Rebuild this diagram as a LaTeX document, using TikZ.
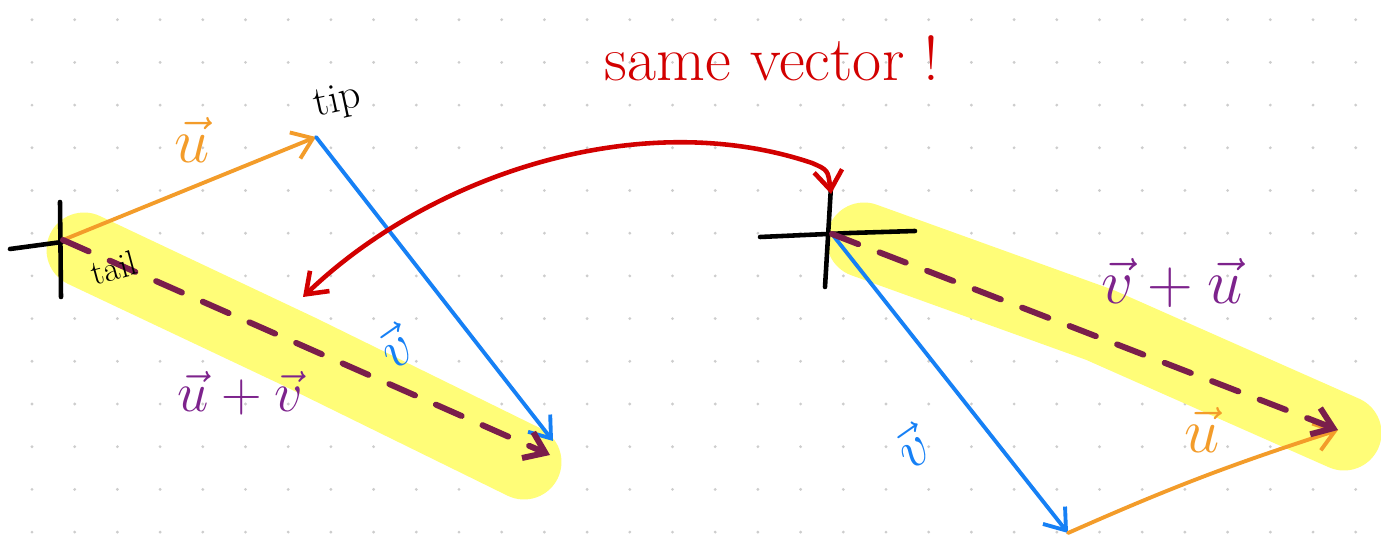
\RequirePackage{fix-cm}
\documentclass[tikz,border=0pt]{standalone}
\usepackage{fontspec}
\usetikzlibrary{arrows.meta}
\definecolor{vorange}{RGB}{243,156,42}
\definecolor{vblue}{RGB}{22,128,245}
\definecolor{vred}{RGB}{210,0,0}
\definecolor{sumdash}{RGB}{122,30,75}
\definecolor{sumtext}{RGB}{125,35,140}
\definecolor{hilite}{RGB}{255,253,120}
\definecolor{griddot}{RGB}{205,205,205}

\begin{document}
\begin{tikzpicture}[x=0.02cm, y=-0.02cm, line cap=round, line join=round,
	barb/.style={-{Straight Barb[length=11pt,width=16pt]}},
	uvec/.style={draw=vorange, line width=2.2pt, barb},
	vvec/.style={draw=vblue, line width=2.2pt, barb},
	sumvec/.style={draw=sumdash, line width=3.4pt, dash pattern=on 16pt off 13pt, barb},
	axis/.style={draw=black, line width=2.6pt},
	marker/.style={draw=hilite, line width=1.5cm},
	lbl/.style={font=\fontsize{#1}{#1}\selectfont, inner sep=0pt}]
	\useasboundingbox (0,0) rectangle (1381,546);
	\foreach \i in {0,...,31} \foreach \j in {0,...,12}
		\fill[griddot] (32+42.7*\i,19.7+42.7*\j) circle[radius=0.9pt];
	\coordinate (Lo) at (63,240);
	\coordinate (Ltip) at (316,137);
	\coordinate (Lend) at (550,455);
	\coordinate (Lvend) at (553,441);
	\coordinate (Ro) at (832,234);
	\coordinate (Rvend) at (1068,533);
	\coordinate (Rend) at (1338,430);
	\coordinate (redA) at (303,297);
	\coordinate (redB) at (831,194);
	\draw[marker] (84,250) -- (300,352) -- (524,462);
	\draw[marker] (864,240) -- (1100,325) -- (1344,433);
	\draw[axis] (60,202) -- (61,297);
	\draw[axis] (10,249) -- (62,242);
	\draw[axis] (831,186) -- (825,287);
	\draw[axis] (760,237) -- (850,233) -- (915,231);
	\draw[uvec] (Lo) -- (Ltip);
	\draw[vvec] (Ltip) -- (Lvend);
	\draw[sumvec] (Lo) -- (Lend);
	\draw[vvec] (Ro) -- (Rvend);
	\draw[uvec] (Rvend) to[bend left=3] (Rend);
	\draw[sumvec] (Ro) -- (Rend);
	\draw[draw=vred, line width=2.6pt, {Straight Barb[length=11pt,width=16pt]}-{Straight Barb[length=11pt,width=16pt]}]
		(redA) .. controls (430,175) and (640,105) .. (812,163) .. controls (828,170) .. (redB);
	\node[lbl=36, text=vred] (same) at (772,58) {same vector !};
	\node[lbl=24, rotate=12] (tip) at (338,102) {tip};
	\node[lbl=20, rotate=15] (tail) at (114,268) {tail};
	\node[lbl=36, text=vorange] (uL) at (192,140) {$\vec u$};
	\node[lbl=32, text=vblue, rotate=35] (vL) at (395,347) {$\vec v$};
	\node[lbl=32, text=sumtext] (uvL) at (240,393) {$\vec u+\vec v$};
	\node[lbl=36, text=sumtext] (vuR) at (1172,283) {$\vec v+\vec u$};
	\node[lbl=32, text=vblue, rotate=35] (vR) at (912,447) {$\vec v$};
	\node[lbl=36, text=vorange] (uR) at (1202,430) {$\vec u$};
\end{tikzpicture}
\end{document}
